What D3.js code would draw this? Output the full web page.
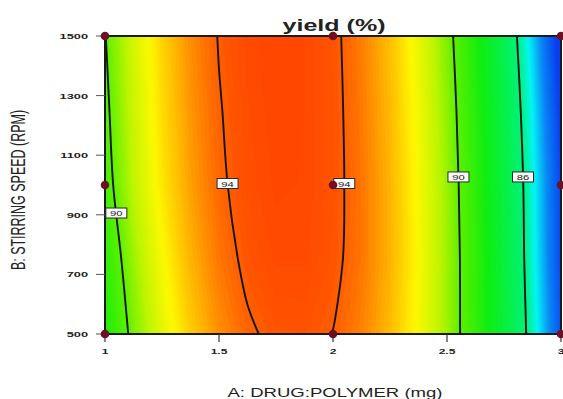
<!DOCTYPE html>
<html><head><meta charset="utf-8">
<script src="https://cdn.jsdelivr.net/npm/d3@7"></script>
<style>
body{margin:0;background:#fff}
svg{display:block}
text{font-family:"Liberation Sans",Arial,Helvetica,sans-serif;fill:#222}
</style>
</head><body>
<svg id="chart" width="563" height="399"></svg>
<script>
// ---- data ----
const A_VALUES = [1, 1.125, 1.25, 1.375, 1.5, 1.625, 1.75, 1.875, 2, 2.125, 2.25, 2.375, 2.5, 2.625, 2.75, 2.875, 3];
const B_VALUES = [1500, 1250, 1000, 750, 500];
const yieldB1500 = [89.96, 91.35, 92.49, 93.39, 94.04, 94.44, 94.60, 94.50, 94.17, 93.58, 92.75, 91.67, 90.34, 88.76, 86.94, 84.87, 82.56];
const yieldB1250 = [89.78, 91.19, 92.36, 93.28, 93.95, 94.38, 94.57, 94.50, 94.20, 93.64, 92.84, 91.80, 90.51, 88.97, 87.19, 85.16, 82.88];
const yieldB1000 = [89.59, 91.02, 92.22, 93.16, 93.86, 94.32, 94.53, 94.49, 94.21, 93.68, 92.91, 91.89, 90.62, 89.11, 87.36, 85.35, 83.11];
const yieldB750  = [89.14, 90.64, 91.90, 92.91, 93.66, 94.17, 94.42, 94.42, 94.17, 93.68, 92.93, 91.93, 90.68, 89.18, 87.42, 85.42, 83.17];
const yieldB500  = [88.76, 90.28, 91.56, 92.58, 93.36, 93.89, 94.17, 94.20, 93.99, 93.53, 92.82, 91.87, 90.67, 89.21, 87.52, 85.57, 83.38];
const CONTOUR_LEVELS = [86, 90, 94];
const X_TICKS = [1, 1.5, 2, 2.5, 3];
const X_TICK_LABELS = ["1", "1.5", "2", "2.5", "3"];
const Y_TICKS = [500, 700, 900, 1100, 1300, 1500];
const Y_TICK_LABELS = ["500", "700", "900", "1100", "1300", "1500"];
const DESIGN_A = [1, 1, 1, 2, 2, 2, 3, 3, 3];
const DESIGN_B = [1500, 1000, 500, 1500, 1000, 500, 1500, 1000, 500];
const LABEL_LEVELS = [90, 94, 94, 90, 86];
const LABEL_B = [906, 1005, 1005, 1027, 1027];
const LABEL_NEAR_A = [1.05, 1.5, 2.05, 2.55, 2.85];
const TITLE = "yield (%)";
const X_TITLE = "A: DRUG:POLYMER (mg)";
const Y_TITLE = "B: STIRRING SPEED (RPM)";

// ---- drawing ----
const svg = d3.select("#chart");
const x = d3.scaleLinear().domain([1, 3]).range([105, 561]);
const y = d3.scaleLinear().domain([500, 1500]).range([334, 36]);

const grid = [yieldB1500, yieldB1250, yieldB1000, yieldB750, yieldB500];
const nx = A_VALUES.length, ny = B_VALUES.length;
const values = grid.flat();
const stepA = A_VALUES[1] - A_VALUES[0];
const stepB = B_VALUES[1] - B_VALUES[0];
const gx = c => x(A_VALUES[0] + (c - 0.5) * stepA);
const gy = c => y(B_VALUES[0] + (c - 0.5) * stepB);
const path = d3.geoPath(d3.geoTransform({point(px, py) { this.stream.point(gx(px), gy(py)); }}));

const color = d3.scaleLinear()
  .domain([83.0, 84.2, 85.2, 86.0, 88.5, 90.0, 91.0, 92.0, 93.0, 93.8, 94.2, 94.6])
  .range(["#0a3ff0", "#0a86f5", "#05f5f5", "#00f27a", "#10ee10", "#5cf000", "#bff500", "#fdf800", "#ffae00", "#ff6c00", "#ff5200", "#ff4600"])
  .clamp(true);

svg.append("defs").append("clipPath").attr("id", "plotclip")
  .append("rect").attr("x", x(1)).attr("y", y(1500)).attr("width", x(3) - x(1)).attr("height", y(500) - y(1500));

const plot = svg.append("g").attr("clip-path", "url(#plotclip)");
const fillThresholds = d3.range(80, 95.01, 0.1);
const fills = d3.contours().size([nx, ny]).thresholds(fillThresholds)(values);
plot.selectAll("path.band").data(fills).join("path").attr("class", "band")
  .attr("d", path).attr("fill", d => color(d.value + 0.05)).attr("stroke", d => color(d.value + 0.05)).attr("stroke-width", 0.3);

// isolines: keep only the part of each ring inside the sampled area, draw smoothly
const lines = d3.contours().size([nx, ny]).thresholds(CONTOUR_LEVELS)(values);
const eps = 1e-6;
const inside = p => p[0] >= 0.5 - eps && p[0] <= nx - 0.5 + eps && p[1] >= 0.5 - eps && p[1] <= ny - 0.5 + eps;
const lineGen = d3.line().x(p => gx(p[0])).y(p => gy(p[1])).curve(d3.curveCatmullRom.alpha(0.5));
const runs = [];
lines.forEach(mp => mp.coordinates.forEach(poly => poly.forEach(ring => {
  let cur = [];
  const pts = ring.slice(0, -1);
  // rotate so we start at an outside point
  let s = pts.findIndex(p => !inside(p));
  if (s < 0) s = 0;
  const rot = pts.slice(s).concat(pts.slice(0, s));
  rot.forEach(p => {
    if (inside(p)) cur.push(p);
    else { if (cur.length > 1) runs.push(cur); cur = []; }
  });
  if (cur.length > 1) runs.push(cur);
})));
plot.selectAll("path.iso").data(runs).join("path").attr("class", "iso")
  .attr("d", lineGen).attr("fill", "none").attr("stroke", "#151515").attr("stroke-width", 1.9);

// frame
svg.append("rect").attr("x", x(1)).attr("y", y(1500)).attr("width", x(3) - x(1)).attr("height", y(500) - y(1500))
  .attr("fill", "none").attr("stroke", "#1a1a1a").attr("stroke-width", 2);

// helper for horizontally stretched text
function stext(px, py, str, size, sx, anchor, weight, rot) {
  const g = svg.append("g").attr("transform", `translate(${px},${py}) scale(${sx},1)` + (rot ? ` rotate(${rot})` : ""));
  return g.append("text").attr("text-anchor", anchor).attr("font-size", size).attr("font-weight", weight || "normal").text(str);
}

// y axis ticks
Y_TICKS.forEach((v, i) => {
  svg.append("line").attr("x1", x(1) - 9).attr("x2", x(1)).attr("y1", y(v)).attr("y2", y(v)).attr("stroke", "#555").attr("stroke-width", 1);
  stext(88, y(v) + 3, Y_TICK_LABELS[i], 8, 1.6, "end", "bold");
});
// x axis ticks
X_TICKS.forEach((v, i) => {
  svg.append("line").attr("x1", x(v)).attr("x2", x(v)).attr("y1", y(500)).attr("y2", y(500) + 8).attr("stroke", "#333").attr("stroke-width", 1.2);
  stext(x(v), 354, X_TICK_LABELS[i], 8, 1.5, "middle", "bold");
});

// contour labels
function valueAt(j, b) {
  const r = (B_VALUES[0] - b) / (B_VALUES[0] - B_VALUES[ny - 1]) * (ny - 1);
  const r0 = Math.max(0, Math.min(ny - 2, Math.floor(r))), t = r - r0;
  return grid[r0][j] * (1 - t) + grid[r0 + 1][j] * t;
}
LABEL_LEVELS.forEach((lv, k) => {
  const b = LABEL_B[k];
  let best = null;
  for (let j = 0; j < nx - 1; j++) {
    const v0 = valueAt(j, b), v1 = valueAt(j + 1, b);
    if ((v0 - lv) * (v1 - lv) <= 0 && v0 !== v1) {
      const a = A_VALUES[j] + (lv - v0) / (v1 - v0) * stepA;
      if (best === null || Math.abs(a - LABEL_NEAR_A[k]) < Math.abs(best - LABEL_NEAR_A[k])) best = a;
    }
  }
  const cx = x(best), cy = y(b);
  svg.append("rect").attr("x", cx - 10.5).attr("y", cy - 5).attr("width", 21).attr("height", 10)
    .attr("fill", "#fafafa").attr("stroke", "#2a2a2a").attr("stroke-width", 1);
  stext(cx, cy + 3, String(lv), 8, 1.4, "middle", "normal");
});

// design points
DESIGN_A.forEach((a, i) => {
  svg.append("circle").attr("cx", x(a)).attr("cy", y(DESIGN_B[i])).attr("r", 4.3).attr("fill", "#6e1024");
});

// titles
svg.append("text").attr("x", 334).attr("y", 31).attr("text-anchor", "middle").attr("font-size", 16).attr("font-weight", "bold")
  .attr("textLength", 103).attr("lengthAdjust", "spacingAndGlyphs").text(TITLE);
svg.append("text").attr("x", 335).attr("y", 397).attr("text-anchor", "middle").attr("font-size", 13.5)
  .attr("textLength", 215).attr("lengthAdjust", "spacingAndGlyphs").text(X_TITLE);
stext(25, 190, Y_TITLE, 12.5, 1.6, "middle", "normal", -90);
</script>
</body></html>
